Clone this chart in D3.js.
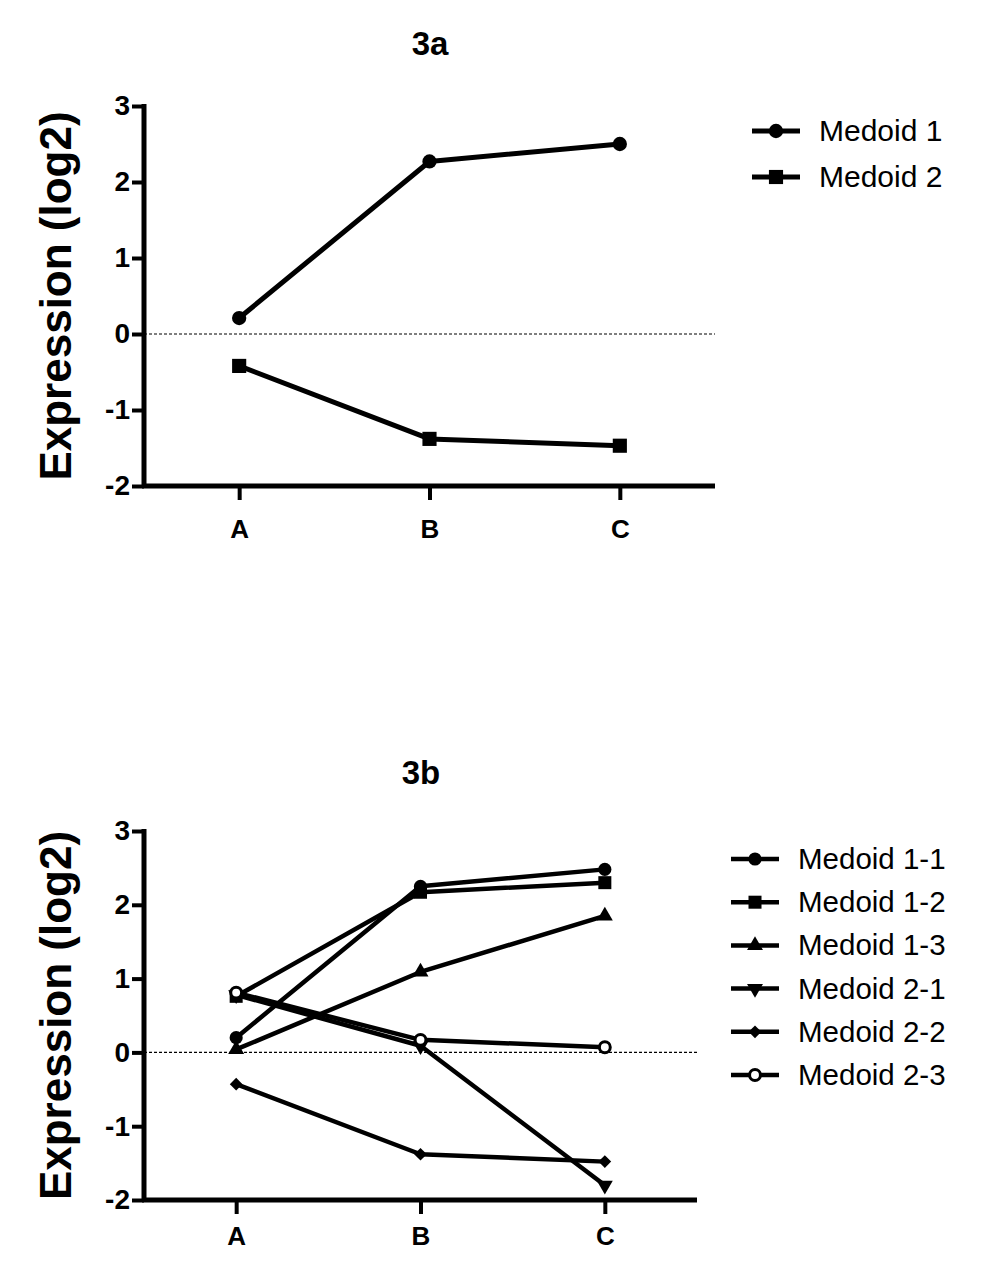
<!DOCTYPE html>
<html>
<head>
<meta charset="utf-8">
<script src="https://cdn.jsdelivr.net/npm/d3@7"></script>
<style>
  html, body { margin: 0; padding: 0; background: #fff; }
  svg { display: block; font-family: "Liberation Sans", Arial, sans-serif; }
</style>
</head>
<body>
<svg id="chart" width="981" height="1270"></svg>
<script>
// ---- Data ----
const categories = ["A", "B", "C"];
const yTicks = [-2, -1, 0, 1, 2, 3];

const seriesNamesA = ["Medoid 1", "Medoid 2"];
const medoid1 = [0.21, 2.27, 2.50];
const medoid2 = [-0.42, -1.38, -1.47];

const seriesNamesB = ["Medoid 1-1", "Medoid 1-2", "Medoid 1-3", "Medoid 2-1", "Medoid 2-2", "Medoid 2-3"];
const medoid1_1 = [0.20, 2.25, 2.48];
const medoid1_2 = [0.76, 2.17, 2.30];
const medoid1_3 = [0.04, 1.09, 1.85];
const medoid2_1 = [0.78, 0.09, -1.80];
const medoid2_2 = [-0.43, -1.38, -1.48];
const medoid2_3 = [0.81, 0.17, 0.07];

const svg = d3.select("#chart");

function drawPanel(cfg) {
  const g = svg.append("g");
  const x = d3.scalePoint().domain(categories).range([cfg.x0, cfg.x1]).padding(0.5);
  const y = d3.scaleLinear().domain([-2, 3]).range([cfg.yBottom, cfg.yTop]);

  // title
  g.append("text").attr("x", cfg.titleX).attr("y", cfg.titleY)
    .attr("text-anchor", "middle").attr("font-weight", "bold").attr("font-size", 33)
    .text(cfg.title);

  // y label
  g.append("text")
    .attr("transform", `translate(${cfg.labelX},${(cfg.yTop + cfg.yBottom) / 2}) rotate(-90)`)
    .attr("text-anchor", "middle").attr("font-weight", "bold").attr("font-size", 44)
    .text("Expression (log2)");

  // zero dotted line
  g.append("line")
    .attr("x1", cfg.x0).attr("x2", cfg.x1)
    .attr("y1", y(0)).attr("y2", y(0))
    .attr("stroke", "#000").attr("stroke-width", 1.2).attr("stroke-dasharray", "3,2");

  // y axis
  const yAxis = d3.axisLeft(y).tickValues(yTicks).tickSize(12).tickPadding(2).tickFormat(d => String(d));
  const ya = g.append("g").attr("transform", `translate(${cfg.x0},0)`).call(yAxis);
  ya.attr("font-size", null).attr("font-family", null);
  ya.select(".domain").remove();
  ya.selectAll(".tick line").attr("stroke", "#000").attr("stroke-width", 4);
  ya.selectAll(".tick text").style("font-size", "28px").style("font-weight", "bold")
    .attr("fill", "#000");
  g.append("line").attr("x1", cfg.x0).attr("x2", cfg.x0)
    .attr("y1", cfg.yTop - 2).attr("y2", cfg.yBottom + 2)
    .attr("stroke", "#000").attr("stroke-width", 5);

  // x axis
  const xAxis = d3.axisBottom(x).tickSize(14).tickPadding(cfg.xPad);
  const xa = g.append("g").attr("transform", `translate(0,${cfg.yBottom})`).call(xAxis);
  xa.attr("font-size", null).attr("font-family", null);
  xa.select(".domain").remove();
  xa.selectAll(".tick line").attr("stroke", "#000").attr("stroke-width", 4);
  xa.selectAll(".tick text").style("font-size", "26px").style("font-weight", "bold")
    .attr("fill", "#000");
  g.append("line").attr("x1", cfg.x0 - 2).attr("x2", cfg.x1)
    .attr("y1", cfg.yBottom).attr("y2", cfg.yBottom)
    .attr("stroke", "#000").attr("stroke-width", 5);

  const line = d3.line().x((d, i) => x(categories[i])).y(d => y(d));

  cfg.series.forEach(s => {
    g.append("path").datum(s.values).attr("d", line)
      .attr("fill", "none").attr("stroke", "#000").attr("stroke-width", cfg.lineWidth)
      .attr("stroke-linejoin", "round");
    s.values.forEach((v, i) => {
      drawMarker(g, s.marker, x(categories[i]), y(v), cfg.markerScale);
    });
  });

  // legend
  cfg.series.forEach((s, i) => {
    const ly = cfg.legY + i * cfg.legStep;
    g.append("line").attr("x1", cfg.legX).attr("x2", cfg.legX + 48)
      .attr("y1", ly).attr("y2", ly)
      .attr("stroke", "#000").attr("stroke-width", cfg.lineWidth);
    drawMarker(g, s.marker, cfg.legX + 24, ly, cfg.markerScale);
    g.append("text").attr("x", cfg.legX + 67).attr("y", ly + 10)
      .attr("font-size", cfg.legFont).text(s.name);
  });
}

function drawMarker(g, type, cx, cy, k) {
  let sym, rot = 0, size, open = false;
  if (type === "circle") { sym = d3.symbolCircle; size = 160; }
  else if (type === "square") { sym = d3.symbolSquare; size = 200; }
  else if (type === "triangle") { sym = d3.symbolTriangle; size = 130; }
  else if (type === "triangleDown") { sym = d3.symbolTriangle; size = 130; rot = 180; }
  else if (type === "diamond") { sym = d3.symbolSquare; size = 95; rot = 45; }
  else if (type === "openCircle") { sym = d3.symbolCircle; size = 110; open = true; }
  const p = g.append("path")
    .attr("d", d3.symbol().type(sym).size(size * k * k)())
    .attr("transform", `translate(${cx},${cy}) rotate(${rot})`);
  if (open) p.attr("fill", "#fff").attr("stroke", "#000").attr("stroke-width", 3);
  else p.attr("fill", "#000");
}

drawPanel({
  title: "3a", titleX: 430, titleY: 55,
  x0: 144, x1: 715, yTop: 106, yBottom: 486, labelX: 71, xPad: 20,
  lineWidth: 5, markerScale: 1,
  legX: 752, legY: 131, legStep: 46, legFont: 30,
  series: [
    { name: seriesNamesA[0], values: medoid1, marker: "circle" },
    { name: seriesNamesA[1], values: medoid2, marker: "square" }
  ]
});

drawPanel({
  title: "3b", titleX: 421, titleY: 784,
  x0: 144, x1: 697, yTop: 831, yBottom: 1200, labelX: 71, xPad: 13,
  lineWidth: 4.5, markerScale: 0.92,
  legX: 731, legY: 859, legStep: 43.2, legFont: 29.5,
  series: [
    { name: seriesNamesB[0], values: medoid1_1, marker: "circle" },
    { name: seriesNamesB[1], values: medoid1_2, marker: "square" },
    { name: seriesNamesB[2], values: medoid1_3, marker: "triangle" },
    { name: seriesNamesB[3], values: medoid2_1, marker: "triangleDown" },
    { name: seriesNamesB[4], values: medoid2_2, marker: "diamond" },
    { name: seriesNamesB[5], values: medoid2_3, marker: "openCircle" }
  ]
});
</script>
</body>
</html>
